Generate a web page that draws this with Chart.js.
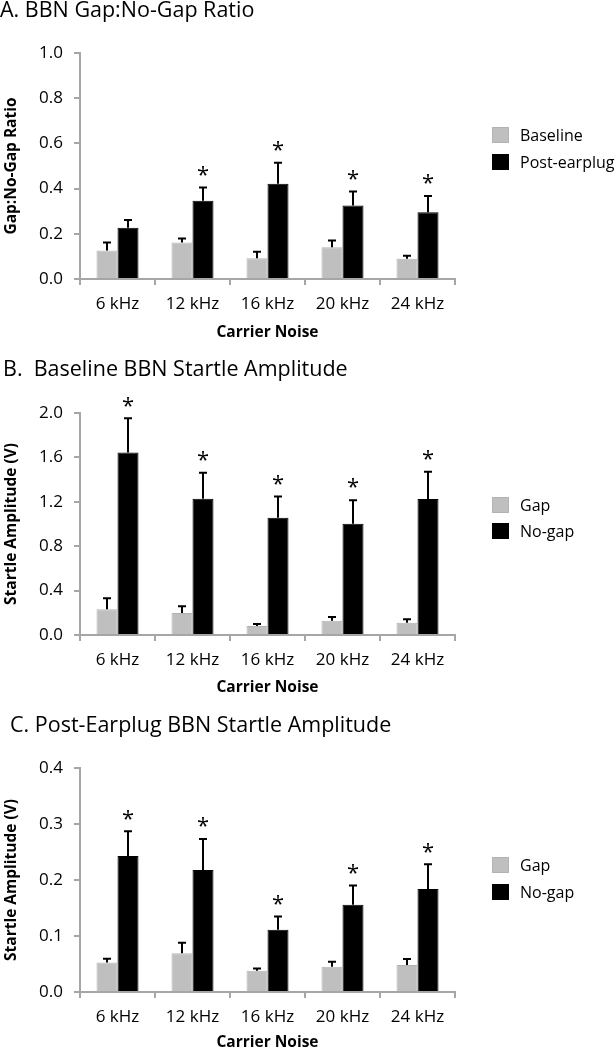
<!DOCTYPE html>
<html>
<head>
<meta charset="utf-8">
<script src="https://cdn.jsdelivr.net/npm/chart.js@4.4.1/dist/chart.umd.min.js"></script>
<style>
  body { margin: 0; background: #fff; }
  .panel { position: absolute; left: 0; width: 616px; }
</style>
</head>
<body>
<div class="panel" style="top:0;height:345px"><canvas id="chartA"></canvas></div>
<div class="panel" style="top:345px;height:355px"><canvas id="chartB"></canvas></div>
<div class="panel" style="top:700px;height:350px"><canvas id="chartC"></canvas></div>
<script>
const categories = ['6 kHz', '12 kHz', '16 kHz', '20 kHz', '24 kHz'];

// A. gap:no-gap ratio
const ratioBaseline = [0.126, 0.161, 0.092, 0.140, 0.090];
const ratioBaselineErr = [0.035, 0.018, 0.029, 0.030, 0.013];
const ratioPost = [0.227, 0.346, 0.422, 0.325, 0.295];
const ratioPostErr = [0.034, 0.059, 0.092, 0.062, 0.072];
const ratioSig = [false, true, true, true, true];

// B. baseline startle amplitude (V)
const baseGap = [0.232, 0.199, 0.081, 0.129, 0.111];
const baseGapErr = [0.099, 0.060, 0.018, 0.033, 0.030];
const baseNoGap = [1.645, 1.227, 1.056, 1.002, 1.225];
const baseNoGapErr = [0.307, 0.235, 0.192, 0.213, 0.245];
const baseSig = [true, true, true, true, true];

// C. post-earplug startle amplitude (V)
const postGap = [0.0525, 0.069, 0.038, 0.045, 0.048];
const postGapErr = [0.007, 0.019, 0.004, 0.009, 0.011];
const postNoGap = [0.243, 0.218, 0.111, 0.156, 0.184];
const postNoGapErr = [0.044, 0.055, 0.024, 0.034, 0.044];
const postSig = [true, true, true, true, true];

const FONT = '"Open Sans", sans-serif';
const AXIS_GREY = '#a6a6a6';
const GREY_BAR = '#bfbfbf';

Chart.defaults.color = '#000';
Chart.defaults.font.family = FONT;

// error bars (upper only) + significance stars
const errorBars = {
  id: 'errorBars',
  afterDatasetsDraw(chart) {
    const ctx = chart.ctx;
    const yScale = chart.scales.y;
    chart.data.datasets.forEach((ds, i) => {
      const meta = chart.getDatasetMeta(i);
      meta.data.forEach((bar, j) => {
        const top = yScale.getPixelForValue(ds.data[j] + ds.err[j]);
        ctx.save();
        ctx.strokeStyle = '#000';
        ctx.lineWidth = 2;
        ctx.beginPath();
        ctx.moveTo(bar.x, bar.y);
        ctx.lineTo(bar.x, top);
        ctx.moveTo(bar.x - 4, top);
        ctx.lineTo(bar.x + 4, top);
        ctx.stroke();
        if (ds.sig && ds.sig[j]) {
          ctx.fillStyle = '#000';
          ctx.font = '22px ' + FONT;
          ctx.textAlign = 'center';
          ctx.textBaseline = 'middle';
          ctx.fillText('*', bar.x, top - 12);
        }
        ctx.restore();
      });
    });
  }
};

// panel title + legend at fixed spots
const decor = {
  id: 'decor',
  afterDraw(chart) {
    const o = chart.options.plugins.decor;
    const ctx = chart.ctx;
    ctx.save();
    ctx.fillStyle = '#000';
    ctx.font = '21.5px ' + FONT;
    ctx.textBaseline = 'alphabetic';
    ctx.textAlign = 'left';
    ctx.fillText(o.title, o.titleX, o.titleY);
    ctx.font = '16px ' + FONT;
    ctx.textBaseline = 'middle';
    chart.data.datasets.forEach((ds, i) => {
      const cy = o.legendY[i];
      ctx.fillStyle = ds.backgroundColor;
      ctx.fillRect(492, cy - 8, 17, 16);
      ctx.strokeStyle = ds.borderColor;
      ctx.lineWidth = 1;
      ctx.strokeRect(492.5, cy - 7.5, 16, 15);
      ctx.fillStyle = '#000';
      ctx.fillText(ds.label, 520, cy + 1);
    });
    ctx.restore();
  }
};

function makeChart(id, cfg) {
  const canvasH = document.getElementById(id).parentNode.clientHeight;
  return new Chart(document.getElementById(id), {
    type: 'bar',
    data: {
      labels: categories,
      datasets: [
        { label: cfg.labels[0], data: cfg.a, err: cfg.aErr, backgroundColor: GREY_BAR,
          borderColor: '#b3b3b3', borderWidth: 1 },
        { label: cfg.labels[1], data: cfg.b, err: cfg.bErr, sig: cfg.sig, backgroundColor: '#000',
          borderColor: '#000', borderWidth: 1 }
      ]
    },
    options: {
      responsive: true,
      maintainAspectRatio: false,
      animation: false,
      events: [],
      layout: { padding: { top: cfg.top, right: 161, left: 0, bottom: 0 } },
      datasets: { bar: { categoryPercentage: 0.56, barPercentage: 1 } },
      scales: {
        x: {
          afterFit(scale) { scale.height = canvasH - cfg.bottom; },
          border: { color: AXIS_GREY, width: 2 },
          grid: { drawOnChartArea: false, color: AXIS_GREY, lineWidth: 2, tickLength: 6, offset: true },
          ticks: { font: { size: 17 }, padding: 9, maxRotation: 0 },
          title: { display: true, text: 'Carrier Noise', font: { size: 15.5, weight: 'bold' },
            padding: { top: 0, bottom: cfg.xTitlePad } }
        },
        y: {
          min: 0,
          max: cfg.max,
          afterFit(scale) { scale.width = 80; },
          border: { color: AXIS_GREY, width: 2 },
          grid: { drawOnChartArea: false, color: AXIS_GREY, lineWidth: 2, tickLength: 6 },
          ticks: { stepSize: cfg.step, font: { size: 17 }, padding: 11,
            callback: v => v.toFixed(1) },
          title: { display: true, text: cfg.yTitle, font: { size: 15.5, weight: 'bold' }, padding: 2 }
        }
      },
      plugins: {
        legend: { display: false },
        tooltip: { enabled: false },
        decor: { title: cfg.title, titleX: cfg.titleX, titleY: cfg.titleY, legendY: cfg.legendY }
      }
    },
    plugins: [errorBars, decor]
  });
}

makeChart('chartA', {
  title: 'A. BBN Gap:No-Gap Ratio', titleX: 0, titleY: 17,
  labels: ['Baseline', 'Post-earplug'],
  a: ratioBaseline, aErr: ratioBaselineErr, b: ratioPost, bErr: ratioPostErr, sig: ratioSig,
  max: 1.0, step: 0.2, yTitle: 'Gap:No-Gap Ratio',
  top: 53, bottom: 279, xTitlePad: 3.5, legendY: [135, 162]
});

makeChart('chartB', {
  title: 'B.  Baseline BBN Startle Amplitude', titleX: 3, titleY: 31,
  labels: ['Gap', 'No-gap'],
  a: baseGap, aErr: baseGapErr, b: baseNoGap, bErr: baseNoGapErr, sig: baseSig,
  max: 2.0, step: 0.4, yTitle: 'Startle Amplitude (V)',
  top: 68, bottom: 290, xTitlePad: 3.5, legendY: [160, 186]
});

makeChart('chartC', {
  title: 'C. Post-Earplug BBN Startle Amplitude', titleX: 10, titleY: 32,
  labels: ['Gap', 'No-gap'],
  a: postGap, aErr: postGapErr, b: postNoGap, bErr: postNoGapErr, sig: postSig,
  max: 0.4, step: 0.1, yTitle: 'Startle Amplitude (V)',
  top: 68, bottom: 292, xTitlePad: -1.5, legendY: [165, 192]
});
</script>
</body>
</html>
